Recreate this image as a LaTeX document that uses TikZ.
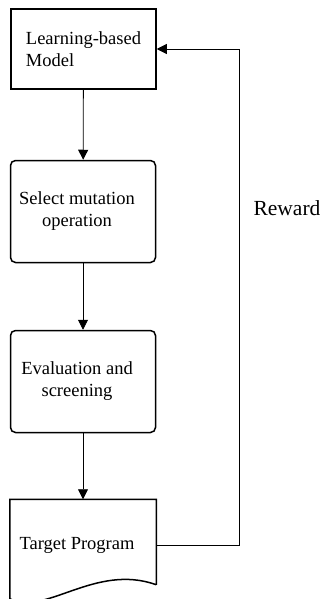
\documentclass[tikz,border=0pt]{standalone}
\usepackage{fontspec}
\setmainfont{Liberation Serif}
\usetikzlibrary{arrows.meta,positioning,calc}

\begin{document}
\begin{tikzpicture}[x=1pt, y=1pt,
    block/.style={draw, line width=1.5pt, minimum width=145pt, minimum height=102pt,
        inner sep=0pt, font=\fontsize{18.5}{22}\selectfont, align=center},
    flow/.style={-{Triangle[length=10pt, width=10pt]}, line width=0.8pt}
]
\useasboundingbox (0,0) rectangle (323,-599);
% Blocks
\node[block, minimum height=80pt, align=left] (model) at (83.5,-49) {Learning-based\\Model};
\node[block, rounded corners=5pt] (select) at (83,-211.5) {Select mutation\hspace*{12pt}\\operation\hspace*{12pt}};
\node[block, rounded corners=5pt] (eval) at (83,-381.5) {Evaluation and\hspace*{12pt}\\screening\hspace*{12pt}};
\node[block, draw=none, minimum height=90pt] (target) at (83,-545) {Target Program\hspace*{12pt}};

% Document outline
\draw[line width=1.5pt] ($(target.south east)+(0,6)$) -- (target.north east) -- (target.north west)
    -- ($(target.south west)+(0,-8)$)
    .. controls ($(target.south west)+(35,-26)$) and ($(target.south east)+(-61,28)$)
    .. ($(target.south east)+(0,6)$);

% Flow
\draw[flow] (model) -- (select);
\draw[flow] (select) -- (eval);
\draw[flow] (eval) -- (target);
\draw[flow] (target.east) -- ++(83,0) |- (model.east);
\node[font=\fontsize{21.5}{26}\selectfont] (reward) at (287,-208) {Reward};
\end{tikzpicture}
\end{document}
